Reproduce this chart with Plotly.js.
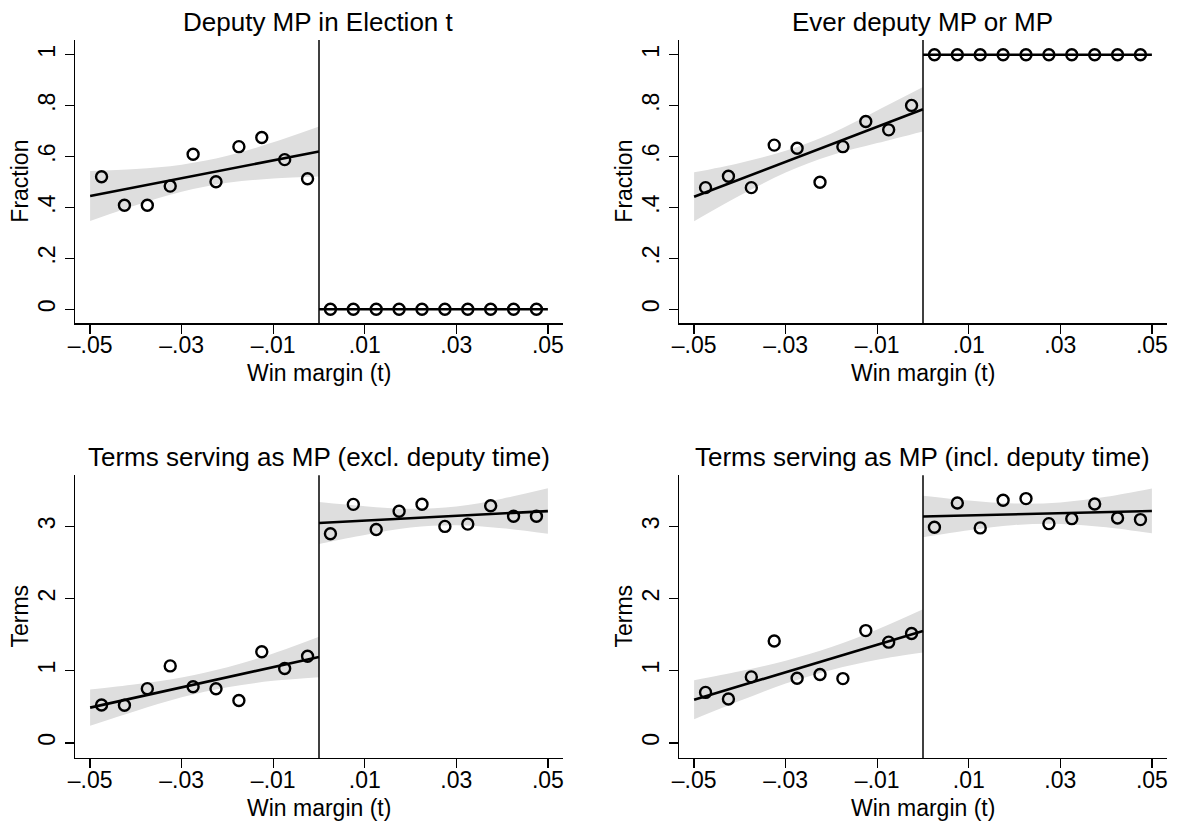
<!DOCTYPE html>
<html>
<head>
<meta charset="utf-8">
<script src="https://cdn.plot.ly/plotly-3.0.1.min.js"></script>
<style>html,body{margin:0;padding:0;background:#fff;}#chart{width:1179px;height:825px;}</style>
</head>
<body>
<div id="chart"></div>
<script>
// ---- data ----
const binsLeft  = [-0.0475, -0.0425, -0.0375, -0.0325, -0.0275, -0.0225, -0.0175, -0.0125, -0.0075, -0.0025];
const binsRight = [0.0025, 0.0075, 0.0125, 0.0175, 0.0225, 0.0275, 0.0325, 0.0375, 0.0425, 0.0475];
const fitXLeft  = [-0.05, 0];
const fitXRight = [0, 0.05];
const ciXLeft   = [-0.05, -0.04, -0.03, -0.02, -0.01, 0];
const ciXRight  = [0, 0.01, 0.02, 0.03, 0.04, 0.05];

const titles = ["Deputy MP in Election t", "Ever deputy MP or MP",
                "Terms serving as MP (excl. deputy time)", "Terms serving as MP (incl. deputy time)"];
const yTitles = ["Fraction", "Fraction", "Terms", "Terms"];
const xTitle = "Win margin (t)";
const xTickVals = [-0.05, -0.03, -0.01, 0.01, 0.03, 0.05];
const xTickText = ["–.05", "–.03", "–.01", ".01", ".03", ".05"];
const yTickValsFrac = [0, 0.2, 0.4, 0.6, 0.8, 1];
const yTickTextFrac = ["0", ".2", ".4", ".6", ".8", "1"];
const yTickValsTerms = [0, 1, 2, 3];
const yTickTextTerms = ["0", "1", "2", "3"];

// Panel 1: Deputy MP in Election t
const p1Left  = [0.521, 0.409, 0.409, 0.484, 0.609, 0.501, 0.639, 0.675, 0.588, 0.513];
const p1Right = [0, 0, 0, 0, 0, 0, 0, 0, 0, 0];
const p1FitLeft  = [0.445, 0.620];
const p1FitRight = [0, 0];
const p1CiLoLeft = [0.347, 0.409, 0.462, 0.497, 0.514, 0.522];
const p1CiHiLeft = [0.543, 0.551, 0.568, 0.603, 0.656, 0.718];
const p1CiLoRight = null;
const p1CiHiRight = null;

// Panel 2: Ever deputy MP or MP
const p2Left  = [0.478, 0.523, 0.478, 0.645, 0.633, 0.499, 0.639, 0.738, 0.705, 0.801];
const p2Right = [1, 1, 1, 1, 1, 1, 1, 1, 1, 1];
const p2FitLeft  = [0.442, 0.786];
const p2FitRight = [1, 1];
const p2CiLoLeft = [0.346, 0.447, 0.537, 0.605, 0.653, 0.699];
const p2CiHiLeft = [0.538, 0.575, 0.623, 0.691, 0.781, 0.873];
const p2CiLoRight = null;
const p2CiHiRight = null;

// Panel 3: Terms serving as MP (excl. deputy time)
const p3Left  = [0.525, 0.521, 0.751, 1.066, 0.777, 0.750, 0.586, 1.262, 1.031, 1.200];
const p3Right = [2.896, 3.303, 2.956, 3.208, 3.305, 2.998, 3.030, 3.284, 3.138, 3.138];
const p3FitLeft  = [0.488, 1.19];
const p3FitRight = [3.045, 3.21];
const p3CiLoLeft = [0.238, 0.443, 0.631, 0.771, 0.859, 0.910];
const p3CiHiLeft = [0.738, 0.813, 0.907, 1.047, 1.239, 1.470];
const p3CiLoRight = [2.755, 2.878, 2.981, 3.014, 2.972, 2.895];
const p3CiHiRight = [3.335, 3.278, 3.241, 3.274, 3.382, 3.525];

// Panel 4: Terms serving as MP (incl. deputy time)
const p4Left  = [0.699, 0.607, 0.914, 1.410, 0.895, 0.948, 0.890, 1.555, 1.395, 1.514];
const p4Right = [2.986, 3.323, 2.977, 3.360, 3.383, 3.036, 3.105, 3.308, 3.115, 3.092];
const p4FitLeft  = [0.598, 1.55];
const p4FitRight = [3.135, 3.212];
const p4CiLoLeft = [0.328, 0.583, 0.821, 1.011, 1.150, 1.250];
const p4CiHiLeft = [0.868, 0.993, 1.137, 1.327, 1.570, 1.850];
const p4CiLoRight = [2.847, 2.943, 3.017, 3.032, 2.987, 2.902];
const p4CiHiRight = [3.423, 3.357, 3.315, 3.330, 3.407, 3.522];

// ---- build ----
const FONT = "Liberation Sans, Arial, Helvetica, sans-serif";
const BAND = "#dedede";
const panels = [
  {l: p1Left, r: p1Right, fl: p1FitLeft, fr: p1FitRight, lol: p1CiLoLeft, hil: p1CiHiLeft, lor: p1CiLoRight, hir: p1CiHiRight},
  {l: p2Left, r: p2Right, fl: p2FitLeft, fr: p2FitRight, lol: p2CiLoLeft, hil: p2CiHiLeft, lor: p2CiLoRight, hir: p2CiHiRight},
  {l: p3Left, r: p3Right, fl: p3FitLeft, fr: p3FitRight, lol: p3CiLoLeft, hil: p3CiHiLeft, lor: p3CiLoRight, hir: p3CiHiRight},
  {l: p4Left, r: p4Right, fl: p4FitLeft, fr: p4FitRight, lol: p4CiLoLeft, hil: p4CiHiLeft, lor: p4CiLoRight, hir: p4CiHiRight}
];

const traces = [];
function band(xs, lo, hi, xa, ya) {
  traces.push({x: xs, y: lo, xaxis: xa, yaxis: ya, mode: 'lines', line: {width: 0, shape: 'spline', color: BAND}, hoverinfo: 'skip', showlegend: false});
  traces.push({x: xs, y: hi, xaxis: xa, yaxis: ya, mode: 'lines', fill: 'tonexty', fillcolor: BAND, line: {width: 0, shape: 'spline', color: BAND}, hoverinfo: 'skip', showlegend: false});
}
panels.forEach((p, i) => {
  const xa = 'x' + (i === 0 ? '' : i + 1), ya = 'y' + (i === 0 ? '' : i + 1);
  if (p.lol) band(ciXLeft, p.lol, p.hil, xa, ya);
  if (p.lor) band(ciXRight, p.lor, p.hir, xa, ya);
  traces.push({x: fitXLeft, y: p.fl, xaxis: xa, yaxis: ya, mode: 'lines', line: {color: 'black', width: 2.6}, showlegend: false});
  traces.push({x: fitXRight, y: p.fr, xaxis: xa, yaxis: ya, mode: 'lines', line: {color: 'black', width: 2.6}, showlegend: false});
  traces.push({x: binsLeft.concat(binsRight), y: p.l.concat(p.r), xaxis: xa, yaxis: ya, mode: 'markers',
    marker: {symbol: 'circle-open', size: 11, color: 'black', line: {width: 2.4, color: 'black'}}, showlegend: false});
});

const W = 1179, H = 825;
const colPx = [[75, 563], [679, 1167]];
const rowPx = [[40, 323.3], [475.2, 757.9]];
const layout = {
  width: W, height: H,
  margin: {l: 0, r: 0, t: 0, b: 0},
  paper_bgcolor: 'white', plot_bgcolor: 'white',
  font: {family: FONT, color: 'black', size: 23},
  showlegend: false,
  shapes: [], annotations: []
};
for (let i = 0; i < 4; i++) {
  const c = colPx[i % 2], r = rowPx[Math.floor(i / 2)];
  const sfx = i === 0 ? '' : String(i + 1);
  const frac = i < 2;
  layout['xaxis' + sfx] = {
    domain: [c[0] / W, c[1] / W], anchor: 'y' + sfx,
    range: [-0.0533, 0.0533], showgrid: false, zeroline: false,
    showline: true, linecolor: 'black', linewidth: 1.4,
    ticks: 'outside', ticklen: 9, tickwidth: 1.4, tickcolor: 'black',
    tickvals: xTickVals, ticktext: xTickText, tickfont: {size: 23, family: FONT},
    ticklabelstandoff: -8
  };
  layout['yaxis' + sfx] = {
    domain: [1 - r[1] / H, 1 - r[0] / H], anchor: 'x' + sfx,
    range: frac ? [-0.055, 1.058] : [-0.208, 3.707],
    showgrid: false, zeroline: false,
    showline: true, linecolor: 'black', linewidth: 1.4,
    ticks: 'outside', ticklen: 9, tickwidth: 1.4, tickcolor: 'black',
    tickvals: frac ? yTickValsFrac : yTickValsTerms,
    ticktext: frac ? yTickTextFrac : yTickTextTerms,
    tickangle: -90, tickfont: {size: 23, family: FONT}
  };
  layout.shapes.push({type: 'line', xref: 'x' + sfx, yref: 'y' + sfx + ' domain', x0: 0, x1: 0, y0: 0, y1: 1,
    line: {color: 'black', width: 1.5}});
  // panel title
  layout.annotations.push({text: titles[i], xref: 'paper', yref: 'paper',
    x: (c[0] + c[1]) / 2 / W, y: 1 - (r[0] - 18) / H, xanchor: 'center', yanchor: 'middle',
    showarrow: false, font: {size: 26, family: FONT, color: 'black'}});
  // x axis title
  layout.annotations.push({text: xTitle, xref: 'paper', yref: 'paper',
    x: (c[0] + c[1]) / 2 / W, y: 1 - (r[1] + 50) / H, xanchor: 'center', yanchor: 'middle',
    showarrow: false, font: {size: 23, family: FONT, color: 'black'}});
  // y axis title
  layout.annotations.push({text: yTitles[i], xref: 'paper', yref: 'paper', textangle: -90,
    x: (c[0] - 55) / W, y: 1 - (r[0] + r[1]) / 2 / H, xanchor: 'center', yanchor: 'middle',
    showarrow: false, font: {size: 23, family: FONT, color: 'black'}});
}
Plotly.newPlot('chart', traces, layout, {staticPlot: true, displayModeBar: false});
</script>
</body>
</html>
